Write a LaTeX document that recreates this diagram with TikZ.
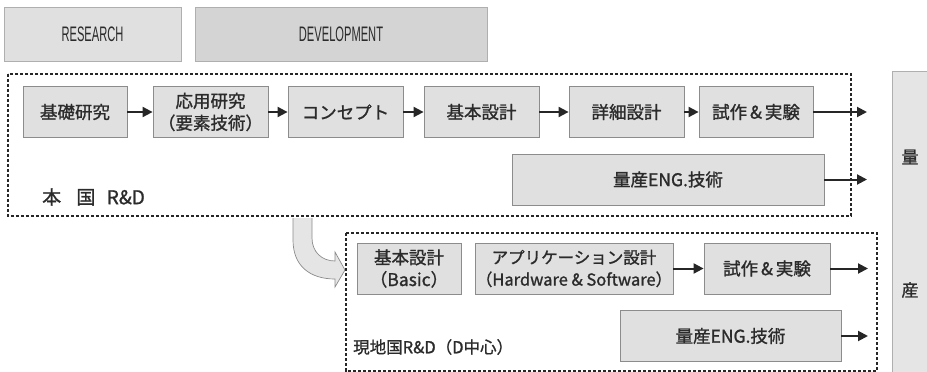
\documentclass[tikz,border=0pt]{standalone}
\usepackage{fontspec}
\setmainfont{Noto Sans CJK JP}[FakeBold=1.2]
\newfontfamily\hdrfont[FakeStretch=0.53]{Liberation Sans}
\usetikzlibrary{arrows.meta}
\definecolor{txt}{HTML}{2B2B2B}
\definecolor{boxfill}{HTML}{E0E0E0}
\definecolor{boxline}{HTML}{8C8C8C}
\tikzset{
  pbox/.style={draw=boxline, fill=boxfill, line width=0.8pt, inner sep=0pt, align=center,
    text=txt, font=\fontsize{17.5}{22}\selectfont, minimum height=51pt},
  hdr/.style={draw=boxline!70, line width=0.6pt, inner sep=0pt, text=txt,
    font=\hdrfont\fontsize{21}{22}\selectfont, minimum height=54pt},
  dbox/.style={draw=black!85, line width=1.5pt, dash pattern=on 3.2pt off 1.8pt},
  flow/.style={line width=2pt, draw=black!85, -{Triangle[length=10pt,width=10pt]}},
  lbl/.style={text=txt, inner sep=0pt, anchor=west}
}
\begin{document}
\begin{tikzpicture}[x=1pt,y=-1pt]
\useasboundingbox (0,0) rectangle (927,372);
% headers
\node[hdr, fill=black!12, minimum width=177pt] (res) at (92.5,34) {RESEARCH};
\node[hdr, fill=black!17, minimum width=292pt] (dev) at (341,34) {DEVELOPMENT};
% right production column
\draw[draw=boxline!70, fill=black!10, line width=0.6pt] (892,71) rectangle (935,380);
\node[text=txt, font=\fontsize{17}{18}\selectfont] (ryo) at (910,157) {量};
\node[text=txt, font=\fontsize{17}{18}\selectfont] (san) at (910,290) {産};
% home R&D
\draw[dbox] (8,74) rectangle (851,216);
\node[pbox, minimum width=104pt] (b1) at (75,112) {基礎研究};
\node[pbox, minimum width=115pt] (b2) at (210.5,112) {応用研究\\（要素技術）};
\node[pbox, minimum width=115pt] (b3) at (345.5,112) {コンセプト};
\node[pbox, minimum width=115pt] (b4) at (481.5,112) {基本設計};
\node[pbox, minimum width=115pt] (b5) at (626.5,112) {詳細設計};
\node[pbox, minimum width=114pt] (b6) at (756,112) {試作\,\&\,実験};
\node[pbox, minimum width=312pt] (m1) at (668,179.5) {量産ENG.技術};
\coordinate (e1) at (867,112);
\coordinate (e2) at (867,179.5);
\draw[flow] (b1) -- (b2);
\draw[flow] (b2) -- (b3);
\draw[flow] (b3) -- (b4);
\draw[flow] (b4) -- (b5);
\draw[flow] (b5) -- (b6);
\draw[flow] (b6) -- (e1);
\draw[flow] (m1) -- (e2);
\node[lbl, font=\fontsize{19}{20}\selectfont] (home) at (42,197) {本\hspace{0.8em}国\hspace{0.6em}R\&D};
% transfer arrow
\draw[draw=black!45, fill=black!10, line width=0.7pt]
  (293,218) -- (293,240) .. controls (293,266) and (310,279) .. (335,279)
  -- (335,287) -- (345,270) -- (335,252) -- (335,261)
  .. controls (322,261) and (312,252) .. (312,238) -- (312,218);
% local R&D
\draw[dbox] (346,233) rectangle (877,371);
\node[pbox, minimum width=104pt] (c1) at (409,268.5) {基本設計\\（Basic）};
\node[pbox, minimum width=198pt, font=\fontsize{16.5}{22}\selectfont] (c2) at (574,268.5) {アプリケーション設計\\（Hardware \& Software）};
\node[pbox, minimum width=126pt] (c3) at (767,268.5) {試作\,\&\,実験};
\node[pbox, minimum width=221pt] (c4) at (730.5,336) {量産ENG.技術};
\coordinate (f1) at (868,268.5);
\coordinate (f2) at (868,336);
\draw[flow] (c2) -- (c3);
\draw[flow] (c3) -- (f1);
\draw[flow] (c4) -- (f2);
\node[lbl, font=\fontsize{16.5}{18}\selectfont] (local) at (353,347) {現地国R\&D（D中心）};
\end{tikzpicture}
\end{document}
